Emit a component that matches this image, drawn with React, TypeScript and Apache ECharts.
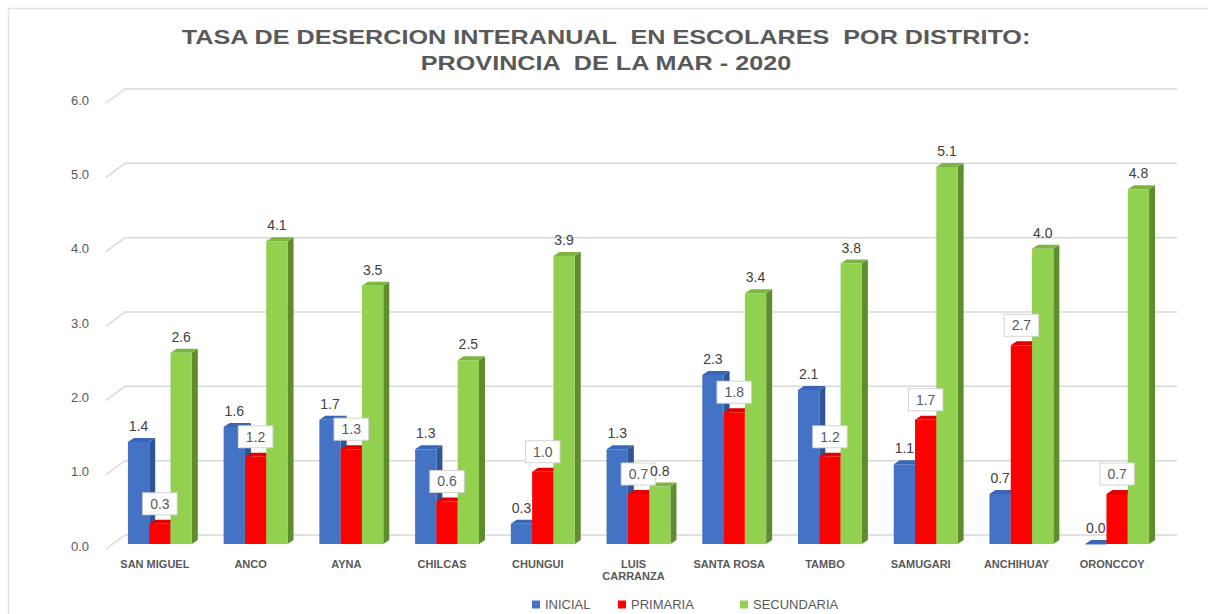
import React, { useEffect, useRef } from 'react';
import * as echarts from 'echarts';

const categories = ['SAN MIGUEL', 'ANCO', 'AYNA', 'CHILCAS', 'CHUNGUI', 'LUIS\nCARRANZA', 'SANTA ROSA', 'TAMBO', 'SAMUGARI', 'ANCHIHUAY', 'ORONCCOY'];
const inicial = [1.4, 1.6, 1.7, 1.3, 0.3, 1.3, 2.3, 2.1, 1.1, 0.7, 0.0];
const primaria = [0.3, 1.2, 1.3, 0.6, 1.0, 0.7, 1.8, 1.2, 1.7, 2.7, 0.7];
const secundaria = [2.6, 4.1, 3.5, 2.5, 3.9, 0.8, 3.4, 3.8, 5.1, 4.0, 4.8];
const yTicks = [0, 1, 2, 3, 4, 5, 6];
const seriesNames = ['INICIAL', 'PRIMARIA', 'SECUNDARIA'];
const seriesValues = [inicial, primaria, secundaria];
const titleText = 'TASA DE DESERCION INTERANUAL  EN ESCOLARES  POR DISTRITO:\nPROVINCIA  DE LA MAR - 2020';

const palette = [
  { front: '#4472C4', side: '#2F5597', top: '#3A66B8' },
  { front: '#FF0000', side: '#B00000', top: '#E00000' },
  { front: '#92D050', side: '#5E8C2E', top: '#7DB540' },
];
const legendLefts = [532, 618, 740];

const FONT = '"Liberation Sans", Arial, sans-serif';
const DX = 6;
const DY = 4;
const BAR_FRAC = 0.2225;

function barGeom(api: any, k: number) {
  const cat = api.value(0);
  const v = api.value(1);
  const base = api.coord([cat, 0]);
  const top = api.coord([cat, v]);
  const band = api.size([1, 0])[0];
  const bw = band * BAR_FRAC;
  const x0 = base[0] + (k - 1.5) * bw;
  const yb = base[1] - 2;
  const yt = Math.min(top[1], yb);
  return { x0, bw, yb, yt, v };
}

function barSeries(k: number) {
  const c = palette[k];
  return {
    type: 'custom',
    name: seriesNames[k],
    itemStyle: { color: c.front },
    encode: { x: 0, y: 1 },
    data: categories.map((_, i) => [i, seriesValues[k][i]]),
    renderItem: (params: any, api: any) => {
      const { x0, bw, yb, yt } = barGeom(api, k);
      return {
        type: 'group',
        children: [
          {
            type: 'polygon',
            shape: { points: [[x0 + bw, yt], [x0 + bw + DX, yt - DY], [x0 + bw + DX, yb - DY], [x0 + bw, yb]] },
            style: { fill: c.side },
          },
          {
            type: 'polygon',
            shape: { points: [[x0, yt], [x0 + DX, yt - DY], [x0 + bw + DX, yt - DY], [x0 + bw, yt]] },
            style: { fill: c.top },
          },
          {
            type: 'rect',
            shape: { x: x0, y: yt, width: bw, height: Math.max(yb - yt, 0.5) },
            style: { fill: c.front },
          },
        ],
      };
    },
  };
}

function labelSeries(k: number) {
  return {
    type: 'custom',
    name: seriesNames[k] + '_label',
    encode: { x: 0, y: 1 },
    silent: true,
    data: categories.map((_, i) => [i, seriesValues[k][i]]),
    renderItem: (params: any, api: any) => {
      const { x0, bw, yt, v } = barGeom(api, k);
      const text = Number(v).toFixed(1);
      if (k === 1) {
        return {
          type: 'text',
          x: x0 + bw / 2,
          y: yt - 20,
          style: {
            text,
            fill: '#595959',
            font: '14px ' + FONT,
            align: 'center',
            verticalAlign: 'middle',
            backgroundColor: '#ffffff',
            borderColor: '#d4d4d4',
            borderWidth: 1,
            padding: [4, 7, 3, 7],
          },
        };
      }
      return {
        type: 'text',
        x: x0 + bw / 2,
        y: yt - 16,
        style: {
          text,
          fill: '#404040',
          font: '14px ' + FONT,
          align: 'center',
          verticalAlign: 'middle',
        },
      };
    },
  };
}

const gridSeries = {
  type: 'custom',
  name: 'gridlines',
  silent: true,
  encode: { x: 0, y: 1 },
  data: yTicks.map((v) => [0, v]),
  renderItem: (params: any, api: any) => {
    const y = api.coord([0, api.value(1)])[1];
    const cs = params.coordSys;
    return {
      type: 'polyline',
      shape: { points: [[cs.x - 6, y + 3], [cs.x + 13, y - 11], [cs.x + cs.width + 12, y - 11]] },
      style: { stroke: '#d9d9d9', lineWidth: 1.5, fill: null },
    };
  },
};

export default function App() {
  const ref = useRef<HTMLDivElement>(null);
  useEffect(() => {
    document.body.style.margin = '0';
    if (!ref.current) return;
    const chart = echarts.init(ref.current, null, { renderer: 'svg' });
    chart.setOption({
      animation: false,
      backgroundColor: '#ffffff',
      graphic: [
        {
          type: 'rect',
          left: 6,
          top: 6,
          shape: { width: 1230, height: 640 },
          style: { fill: 'none', stroke: '#e2e2e2', lineWidth: 1.5 },
          silent: true,
        },
        {
          type: 'text',
          x: 606,
          y: 50,
          scaleX: 1.2,
          silent: true,
          style: {
            text: titleText,
            font: 'bold 21px ' + FONT,
            fill: '#595959',
            align: 'center',
            verticalAlign: 'middle',
            lineHeight: 26,
          },
        },
      ],
      legend: seriesNames.map((n, k) => ({
        data: [n],
        left: legendLefts[k],
        top: 598,
        padding: 0,
        icon: 'rect',
        itemWidth: 8,
        itemHeight: 8,
        textStyle: { color: '#595959', fontSize: 13, fontFamily: FONT },
      })),
      grid: { left: 112, right: 43, top: 100, bottom: 68 },
      xAxis: {
        type: 'category',
        data: categories,
        axisLine: { show: false },
        axisTick: { show: false },
        splitLine: { show: false },
        axisLabel: {
          interval: 0,
          color: '#595959',
          fontSize: 11,
          fontWeight: 'bold',
          fontFamily: FONT,
          margin: 12,
          lineHeight: 12,
          padding: [0, 10, 0, 0],
        },
      },
      yAxis: {
        type: 'value',
        min: 0,
        max: 6,
        interval: 1,
        axisLine: { show: false },
        axisTick: { show: false },
        splitLine: { show: false },
        axisLabel: {
          color: '#595959',
          fontSize: 13,
          fontFamily: FONT,
          margin: 23,
          formatter: (v: number) => v.toFixed(1),
        },
      },
      series: [gridSeries, barSeries(0), labelSeries(0), barSeries(1), barSeries(2), labelSeries(1), labelSeries(2)],
    });
    return () => chart.dispose();
  }, []);
  return <div ref={ref} style={{ width: 1208, height: 614 }} />;
}
